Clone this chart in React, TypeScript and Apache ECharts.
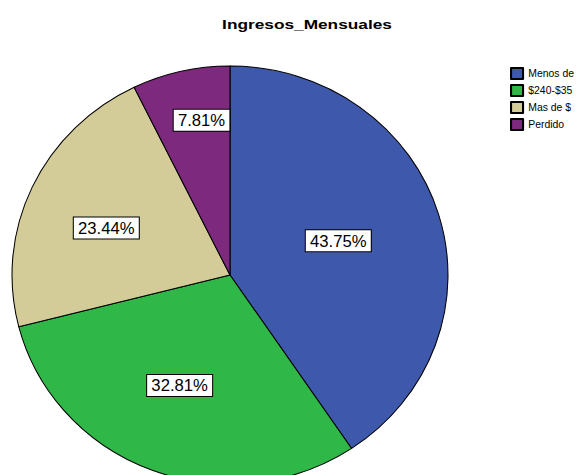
import React, { useEffect, useRef } from "react";
import * as echarts from "echarts";

const categories = ["Menos de $240", "$240-$350", "Mas de $350", "Perdido"];
const counts = [28, 21, 15, 5];
const missingCategory = "Perdido";
const titleText = "Ingresos_Mensuales";
const colors = ["#3e58ac", "#2fb847", "#d4cc98", "#7d2a7e"];
const labelOffsets = [[1, -3], [-10, 10], [-21, -2], [-3, -50]];

// the reference pie is slightly stretched horizontally (an ellipse)
const STRETCH = 1.043;
const CX = 230;
const toChartX = (displayX: number) => CX + (displayX - CX) / STRETCH;

export default function App() {
  const ref = useRef<HTMLDivElement>(null);
  useEffect(() => {
    document.body.style.margin = "0";
    const chart = echarts.init(ref.current!, null, { renderer: "svg" });
    // SPSS shows percentages of the valid (non-missing) cases
    const validTotal = counts.reduce((a, b, i) => (categories[i] === missingCategory ? a : a + b), 0);
    chart.setOption({
      animation: false,
      backgroundColor: "#ffffff",
      graphic: [
        {
          type: "text",
          x: toChartX(307),
          y: 25,
          scaleX: 1.44 / STRETCH,
          style: {
            text: titleText,
            fontFamily: "Liberation Sans",
            fontSize: 12,
            fontWeight: "bold",
            fill: "#000",
            textAlign: "center",
            textVerticalAlign: "middle",
          },
        },
      ],
      legend: {
        orient: "vertical",
        left: toChartX(510),
        top: 67,
        padding: 0,
        itemWidth: 12 / STRETCH,
        itemHeight: 11,
        itemGap: 4,
        icon: "rect",
        textStyle: {
          fontFamily: "Liberation Sans",
          fontSize: 10,
          color: "#000",
          width: 48,
          overflow: "truncate",
          ellipsis: "",
        },
        data: categories,
      },
      series: [
        {
          type: "pie",
          center: [CX, 275],
          radius: 209,
          startAngle: 90,
          clockwise: true,
          itemStyle: { borderColor: "#000", borderWidth: 1 },
          emphasis: { disabled: true },
          label: {
            show: true,
            position: "inside",
            fontFamily: "Liberation Sans",
            fontSize: 16,
            color: "#000",
            backgroundColor: "#fff",
            borderColor: "#000",
            borderWidth: 1,
            padding: [3, 4, 2, 4],
            formatter: (p: any) => ((p.value / validTotal) * 100).toFixed(2) + "%",
          },
          labelLine: { show: false },
          data: categories.map((c, i) => ({
            name: c,
            value: counts[i],
            itemStyle: { color: colors[i] },
            label: { offset: labelOffsets[i] },
          })),
        },
      ],
    });
    return () => chart.dispose();
  }, []);
  return (
    <div style={{ width: 577, height: 475, overflow: "hidden", position: "relative" }}>
      <div
        ref={ref}
        style={{ width: 577, height: 475, transform: `scaleX(${STRETCH})`, transformOrigin: `${CX}px 0` }}
      />
    </div>
  );
}
